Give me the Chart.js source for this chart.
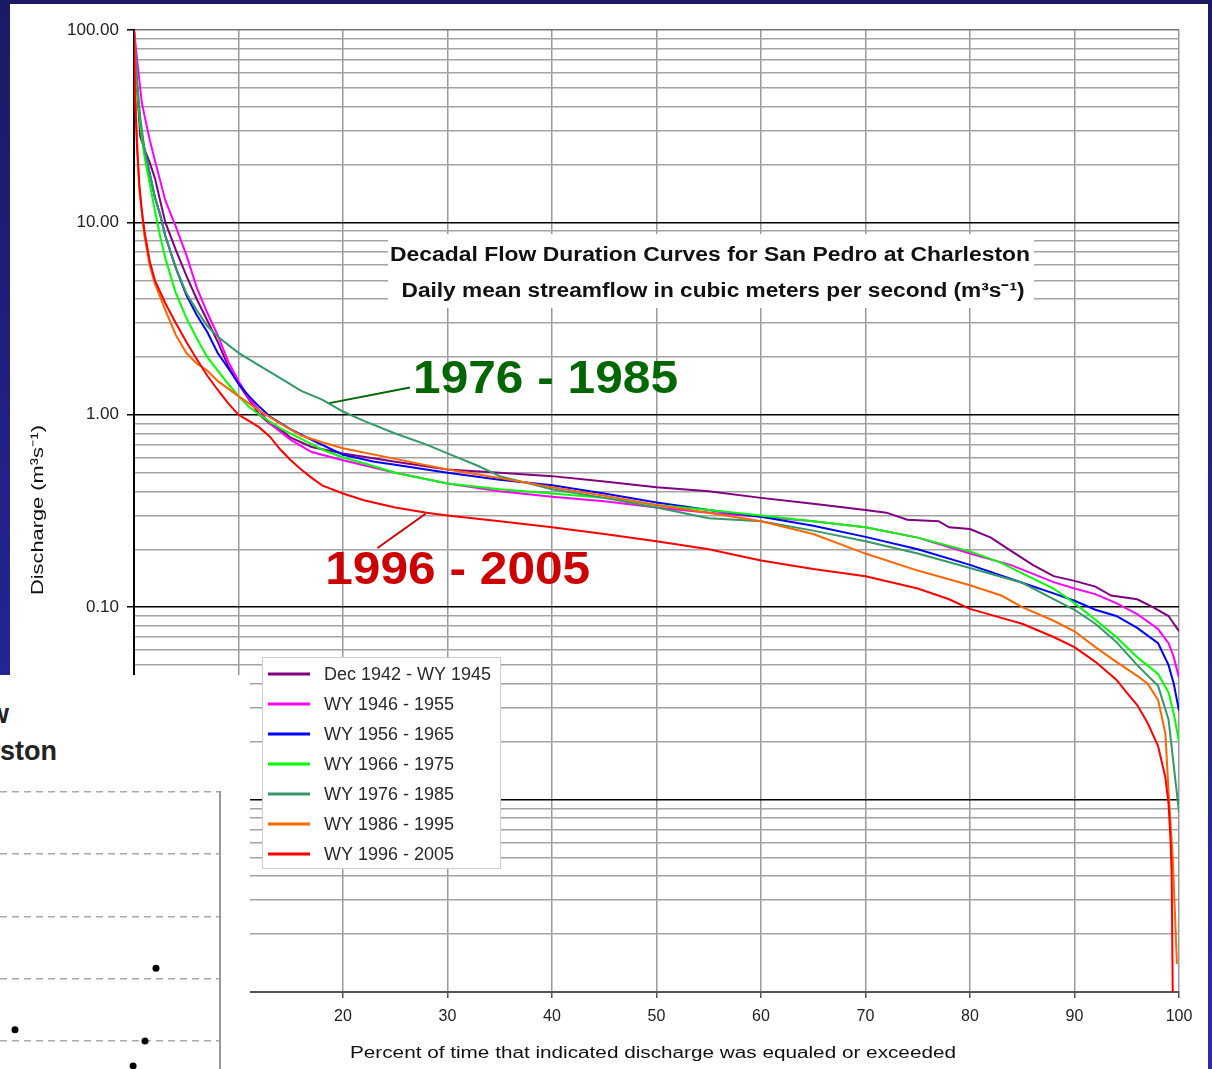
<!DOCTYPE html>
<html><head><meta charset="utf-8">
<script src="https://cdn.jsdelivr.net/npm/chart.js@4.4.1/dist/chart.umd.min.js"></script>
<style>
html,body{margin:0;padding:0;}
body{width:1212px;height:1069px;overflow:hidden;position:relative;background:linear-gradient(to bottom,#1a1a66 0%,#2b2bb0 100%);font-family:'Liberation Sans',Arial,sans-serif;}
#panel{position:absolute;left:10px;top:4px;width:1198px;height:1065px;background:#fff;}
#frag{position:absolute;left:0;top:675px;width:250px;height:394px;background:#fff;overflow:hidden;}
#frag .t{position:absolute;font-weight:bold;font-size:27px;line-height:30px;color:#222;white-space:nowrap;}
#fragwrap{position:absolute;left:0;top:0;width:250px;height:394px;}
</style></head><body>
<div id="panel"><canvas id="main"></canvas></div>
<div id="frag">
  <div class="t" style="left:-12px;top:24px;">w</div>
  <div class="t" style="left:0;top:61px;">ston</div>
  <div id="fragwrap"><canvas id="fragc"></canvas></div>
</div>
<script>
// ---------- data ----------
const seriesLabels = ['Dec 1942 - WY 1945','WY 1946 - 1955','WY 1956 - 1965','WY 1966 - 1975','WY 1976 - 1985','WY 1986 - 1995','WY 1996 - 2005'];

const purpleX = [0,0.3,0.6,1,1.5,2,2.5,3,4,5,6,7,8,9,10,11,12,13,14,15,17,20,25,30,35,40,45,50,55,60,65,70,72,74,77,78,80,82,84,86,88,90,92,93.5,96,97.5,99,100];
const purpleY = [100,50,28,24,20.5,17,13,10,7.2,5.3,4.0,3.1,2.4,1.8,1.45,1.2,1.0,0.9,0.84,0.76,0.68,0.63,0.57,0.52,0.5,0.48,0.45,0.42,0.4,0.37,0.345,0.32,0.31,0.285,0.28,0.26,0.255,0.23,0.195,0.166,0.145,0.137,0.128,0.115,0.11,0.1,0.09,0.075];

const magentaX = [0,0.3,0.75,1,1.5,2,3,4,5,6,7,8,9,10,11,12,13,15,17,20,25,30,35,40,45,50,55,60,65,70,75,80,84,88,90,92,94,96,98,99,99.5,100];
const magentaY = [100,70,42,36,27,21,13,9.5,6.8,4.6,3.4,2.6,1.9,1.5,1.22,1.05,0.9,0.74,0.64,0.58,0.5,0.44,0.4,0.375,0.355,0.33,0.31,0.295,0.28,0.26,0.23,0.19,0.165,0.135,0.125,0.117,0.105,0.092,0.077,0.065,0.055,0.043];

const blueX = [0,0.3,0.6,1,1.5,2,2.5,3,4,5,6,7,8,9,10,11,12,13,15,17,20,23,25,30,35,40,45,50,55,60,65,70,75,80,85,88,90,92,94,96,98,99,99.5,100];
const blueY = [100,50,32,24,18,13.5,11,8.5,5.8,4.2,3.3,2.7,2.1,1.75,1.45,1.25,1.1,0.98,0.84,0.74,0.62,0.57,0.55,0.5,0.46,0.43,0.39,0.35,0.32,0.295,0.265,0.232,0.2,0.166,0.134,0.118,0.108,0.097,0.09,0.078,0.065,0.05,0.04,0.029];

const greenX = [0,0.3,0.6,1,1.5,2,2.5,3,4,5,6,7,8,9,10,11,12,14,16,18,20,22,25,30,35,40,45,50,55,60,65,70,75,80,83,85,88,90,92,94,96,98,99,99.5,100];
const greenY = [100,50,32,22,16,11.5,8.5,6.5,4.3,3.2,2.5,2.0,1.7,1.45,1.25,1.1,1.0,0.85,0.75,0.66,0.6,0.56,0.5,0.44,0.41,0.39,0.37,0.34,0.32,0.3,0.28,0.26,0.23,0.195,0.17,0.15,0.125,0.105,0.086,0.07,0.055,0.045,0.036,0.028,0.02];

const tealX = [0,0.3,0.6,1,1.5,2,2.5,3,4,5,6,7,8,10,12,14,16,18,20,22,25,28,30,33,35,40,45,50,55,60,65,70,75,80,85,88,90,92,94,96,98,99,99.5,100];
const tealY = [100,55,35,24,18,13.5,11,8.5,5.8,4.3,3.5,2.9,2.55,2.1,1.8,1.55,1.33,1.2,1.04,0.93,0.8,0.7,0.63,0.54,0.48,0.41,0.37,0.33,0.29,0.28,0.25,0.22,0.19,0.16,0.134,0.11,0.097,0.082,0.066,0.05,0.039,0.026,0.015,0.0086];

const orangeX = [0,0.2,0.5,1,1.5,2,3,4,5,6,7,8,10,12,14,16,18,20,25,30,35,40,45,50,55,60,65,70,75,80,83,85,88,90,92,94,96,97,98,98.7,99,99.4,99.8];
const orangeY = [100,35,15,8.5,6,4.8,3.5,2.6,2.1,1.85,1.7,1.5,1.25,1.05,0.9,0.78,0.72,0.67,0.59,0.52,0.47,0.42,0.38,0.34,0.31,0.28,0.24,0.19,0.155,0.13,0.115,0.1,0.085,0.075,0.062,0.052,0.044,0.04,0.033,0.022,0.011,0.005,0.0014];

const redX = [0,0.1,0.3,0.5,0.75,1,1.5,2,3,4,5,6,7,8,9,10,11,12,13,14,15,16,17,18,20,22,25,28,30,35,40,45,50,55,60,65,70,75,78,80,83,85,88,90,92,94,95,96,97,98,98.7,99,99.2,99.3,99.4];
const redY = [100,45,24,16,11.5,9,6.3,5,3.8,3.0,2.4,1.95,1.6,1.35,1.15,1.0,0.93,0.86,0.77,0.66,0.58,0.52,0.47,0.43,0.39,0.36,0.33,0.31,0.3,0.28,0.26,0.24,0.22,0.2,0.175,0.158,0.145,0.125,0.11,0.098,0.088,0.082,0.07,0.062,0.052,0.042,0.036,0.031,0.025,0.019,0.013,0.0095,0.006,0.004,0.001];

const xTickValues = [0,10,20,30,40,50,60,70,80,90,100];
const yDecades = [0.001,0.01,0.1,1,10,100];

const titleLines = ['Decadal Flow Duration Curves for San Pedro at Charleston','Daily mean streamflow in cubic meters per second (m\u00B3s\u207B\u00B9)'];
const xTitle = 'Percent of time that indicated discharge was equaled or exceeded';
const yTitle = 'Discharge (m\u00B3s\u207B\u00B9)';

const noteLabels = ['1976 - 1985','1996 - 2005'];
const notePct = [26.7, 18.3];
const noteVal = [1.52, 0.154];
const leaderFromPct = [26.4, 27.9];
const leaderFromVal = [1.386, 0.306];
const leaderToPct = [18.7, 23.3];
const leaderToVal = [1.15, 0.203];

// fragment of the second chart (bottom-left)
const fragX = [0.68, 7.09, 6.59, 6.05];
const fragY = [1.18, 2.17, 1.0, 0.6];
const fragGrid = [1,2,3,4,5];

// ---------- styles ----------
const FONT = "'Liberation Sans', Arial, Helvetica, sans-serif";
Chart.defaults.font.family = FONT;
const seriesColors = ['#800080','#ff00ff','#0000ff','#00ff00','#339966','#ff6600','#ff0000'];
const noteColors = ['#006600','#cc0000'];

const allX = [purpleX, magentaX, blueX, greenX, tealX, orangeX, redX];
const allY = [purpleY, magentaY, blueY, greenY, tealY, orangeY, redY];

const datasets = seriesLabels.map((lab, i) => ({
  label: lab,
  data: allX[i].map((x, j) => ({x: x, y: allY[i][j]})),
  borderColor: seriesColors[i],
  backgroundColor: seriesColors[i],
  borderWidth: 2,
  pointRadius: 0,
  showLine: true,
  tension: 0,
  order: seriesLabels.length - 1 - i
}));

function isDecade(v) {
  const l = Math.log10(v);
  return Math.abs(l - Math.round(l)) < 1e-9;
}

function stretchText(ctx, text, x, y, targetW, font, color, align, rot) {
  ctx.save();
  ctx.font = font;
  const w = ctx.measureText(text).width;
  ctx.translate(x, y);
  if (rot) ctx.rotate(rot);
  ctx.scale(targetW / w, 1);
  ctx.fillStyle = color;
  ctx.textAlign = align || 'center';
  ctx.textBaseline = 'middle';
  ctx.fillText(text, 0, 0);
  ctx.restore();
}

const decor = {
  id: 'decor',
  afterDatasetsDraw(chart) {
    const ctx = chart.ctx;
    const xs = chart.scales.x, ys = chart.scales.y;
    ctx.save();
    // title box
    ctx.fillStyle = '#fff';
    ctx.fillRect(378, 230, 646, 74);
    stretchText(ctx, titleLines[0], 700, 251, 640, 'bold 20px ' + FONT, '#111');
    stretchText(ctx, titleLines[1], 703, 287, 623, 'bold 20px ' + FONT, '#111');
    // annotations
    for (let i = 0; i < noteLabels.length; i++) {
      ctx.strokeStyle = noteColors[i];
      ctx.lineWidth = 2;
      ctx.beginPath();
      ctx.moveTo(xs.getPixelForValue(leaderFromPct[i]), ys.getPixelForValue(leaderFromVal[i]));
      ctx.lineTo(xs.getPixelForValue(leaderToPct[i]), ys.getPixelForValue(leaderToVal[i]));
      ctx.stroke();
      stretchText(ctx, noteLabels[i], xs.getPixelForValue(notePct[i]), ys.getPixelForValue(noteVal[i]), 265, 'bold 46px ' + FONT, noteColors[i], 'left');
    }
    // legend
    const lx = 252, ly = 653, lw = 238, lh = 211;
    ctx.fillStyle = '#fff';
    ctx.fillRect(lx, ly, lw, lh);
    ctx.strokeStyle = '#cfcfcf';
    ctx.lineWidth = 1;
    ctx.strokeRect(lx + 0.5, ly + 0.5, lw, lh);
    chart.data.datasets.forEach((ds, i) => {
      const cy = 670 + i * 30;
      ctx.strokeStyle = ds.borderColor;
      ctx.lineWidth = 3;
      ctx.beginPath();
      ctx.moveTo(258, cy);
      ctx.lineTo(300, cy);
      ctx.stroke();
      ctx.fillStyle = '#2a2a2a';
      ctx.font = '18px ' + FONT;
      ctx.textAlign = 'left';
      ctx.textBaseline = 'middle';
      ctx.fillText(ds.label, 314, cy + 1);
    });
    ctx.restore();
  },
  afterDraw(chart) {
    const ctx = chart.ctx;
    stretchText(ctx, xTitle, 643, 1050, 606, '16px ' + FONT, '#111');
    stretchText(ctx, yTitle, 28, 506, 170, '17px ' + FONT, '#111', 'center', -Math.PI / 2);
  }
};

new Chart(document.getElementById('main'), {
  type: 'scatter',
  data: { datasets: datasets },
  plugins: [decor],
  options: {
    responsive: true,
    maintainAspectRatio: false,
    animation: false,
    layout: { padding: { left: 0, top: 26, right: 29, bottom: 0 } },
    plugins: { legend: { display: false }, tooltip: { enabled: false } },
    scales: {
      x: {
        type: 'linear', min: 0, max: 100, position: 'bottom',
        afterBuildTicks: s => { s.ticks = xTickValues.map(v => ({ value: v })); },
        afterFit: s => { s.height = 77; },
        ticks: { font: { size: 16 }, color: '#222', padding: 9, autoSkip: false, maxRotation: 0 },
        grid: { color: '#9a9a9a', lineWidth: 1.5, tickLength: 6, tickColor: '#555' },
        border: { color: '#555', width: 2 }
      },
      y: {
        type: 'logarithmic', min: 0.001, max: 100, position: 'left',
        afterBuildTicks: s => {
          const t = [];
          for (let d = 0; d < yDecades.length - 1; d++) {
            for (let m = 1; m <= 9; m++) t.push({ value: +(yDecades[d] * m).toPrecision(6), major: m === 1 });
          }
          t.push({ value: yDecades[yDecades.length - 1], major: true });
          s.ticks = t;
        },
        afterFit: s => { s.width = 124; },
        ticks: {
          autoSkip: false, font: { size: 17 }, color: '#222', padding: 8,
          callback: v => isDecade(v) ? Number(v).toFixed(2) : ''
        },
        grid: {
          lineWidth: 1.5, tickLength: 7,
          color: c => {
            if (!c.tick) return '#9a9a9a';
            if (c.tick.value >= 100) return '#777';
            return isDecade(c.tick.value) ? '#000' : '#a3a3a3';
          },
          tickColor: c => (c.tick && isDecade(c.tick.value)) ? '#000' : 'rgba(0,0,0,0)'
        },
        border: { color: '#000', width: 2 }
      }
    }
  }
});

new Chart(document.getElementById('fragc'), {
  type: 'scatter',
  data: { datasets: [{
    data: fragX.map((x, i) => ({ x: x, y: fragY[i] })),
    pointRadius: 3.5, pointBackgroundColor: '#000', pointBorderWidth: 0, pointStyle: 'circle', clip: false
  }] },
  options: {
    responsive: true, maintainAspectRatio: false, animation: false,
    layout: { autoPadding: false, padding: { left: 0, top: 117, right: 30, bottom: 0 } },
    plugins: { legend: { display: false }, tooltip: { enabled: false } },
    scales: {
      x: { type: 'linear', min: 0, max: 10, display: false },
      y: {
        type: 'linear', min: 0.55, max: 5, position: 'right',
        afterBuildTicks: s => { s.ticks = fragGrid.map(v => ({ value: v })); },
        ticks: { display: false },
        grid: { color: '#aaa', lineWidth: 1.5, drawTicks: false },
        border: { display: true, color: '#999', width: 2, dash: [7, 5] }
      }
    }
  }
});
</script>
</body></html>
